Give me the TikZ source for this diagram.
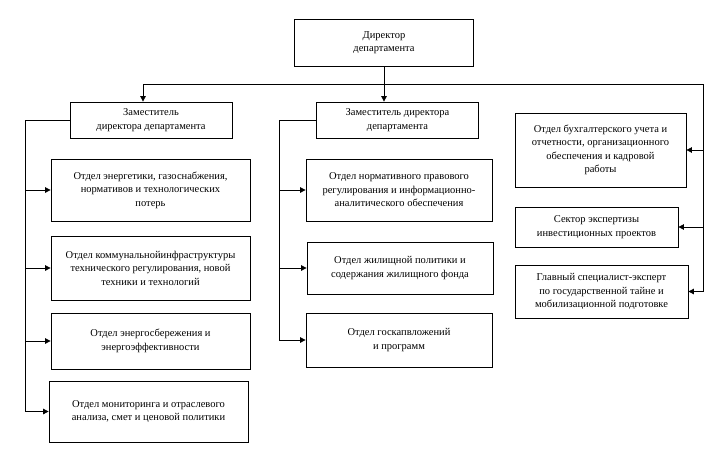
\documentclass[tikz,border=0pt]{standalone}
\usepackage{fontspec}
\setmainfont{Liberation Serif}
\usetikzlibrary{arrows.meta}
\tikzset{
  box/.style={draw=black, line width=0.8pt, fill=white, align=center, inner sep=2pt,
    font=\rmfamily\fontsize{10.5}{13.5}\selectfont},
  arr/.style={draw=black, line width=0.8pt, -{Triangle[length=5.5pt,width=5.5pt]}},
  ln/.style={draw=black, line width=0.8pt}
}
\begin{document}
\begin{tikzpicture}[x=1pt,y=-1pt]
\useasboundingbox[fill=white] (0,0) rectangle (720,453);
% boxes
\node[box, minimum width=179pt, minimum height=47pt] (dir) at (384,42.5) {Директор\\департамента};
\node[box, minimum width=162pt, minimum height=36pt] (ld) at (151,120) {Заместитель\\директора департамента};
\node[box, minimum width=162pt, minimum height=36pt] (md) at (397.5,120) {Заместитель директора\\департамента};
\node[box, minimum width=199pt, minimum height=62pt] (l1) at (150.5,190) {Отдел энергетики, газоснабжения,\\нормативов и технологических\\потерь};
\node[box, minimum width=199pt, minimum height=64pt] (l2) at (150.5,268) {Отдел коммунальнойинфраструктуры\\технического регулирования, новой\\техники и технологий};
\node[box, minimum width=199pt, minimum height=56pt] (l3) at (150.5,341) {Отдел энергосбережения и\\энергоэффективности};
\node[box, minimum width=199pt, minimum height=61pt] (l4) at (148.5,411.5) {Отдел мониторинга и отраслевого\\анализа, смет и ценовой политики};
\node[box, minimum width=186pt, minimum height=62pt] (m1) at (399,190) {Отдел нормативного правового\\регулирования и информационно-\\аналитического обеспечения};
\node[box, minimum width=186pt, minimum height=52pt] (m2) at (400,268) {Отдел жилищной политики и\\содержания жилищного фонда};
\node[box, minimum width=186pt, minimum height=54pt] (m3) at (399,340) {Отдел госкапвложений\\и программ};
\node[box, minimum width=171pt, minimum height=74pt] (r1) at (600.5,150) {Отдел бухгалтерского учета и\\отчетности, организационного\\обеспечения и кадровой\\работы};
\node[box, minimum width=163pt, minimum height=40pt] (r2) at (596.5,227) {Сектор экспертизы\\инвестиционных проектов};
\node[box, minimum width=173pt, minimum height=53pt] (r3) at (601.5,291.5) {Главный специалист-эксперт\\по государственной тайне и\\мобилизационной подготовке};
% bus coordinates
\coordinate (ltop) at (143,84);
\coordinate (rtop) at (703,84);
\coordinate (lbus) at (25,120);
\coordinate (mbus) at (279,120);
% connectors
\draw[arr] (dir.south) -- (dir.south |- md.north);
\draw[ln] (ltop) -- (rtop);
\draw[arr] (ltop) -- (ltop |- ld.north);
\draw[arr] (rtop) |- (r3.east);
\draw[arr] (rtop |- r1.east) -- (r1.east);
\draw[arr] (rtop |- r2.east) -- (r2.east);
\draw[arr] (ld.west) -- (lbus) |- (l4.west);
\draw[arr] (lbus |- l1.west) -- (l1.west);
\draw[arr] (lbus |- l2.west) -- (l2.west);
\draw[arr] (lbus |- l3.west) -- (l3.west);
\draw[arr] (md.west) -- (mbus) |- (m3.west);
\draw[arr] (mbus |- m1.west) -- (m1.west);
\draw[arr] (mbus |- m2.west) -- (m2.west);
\end{tikzpicture}
\end{document}
